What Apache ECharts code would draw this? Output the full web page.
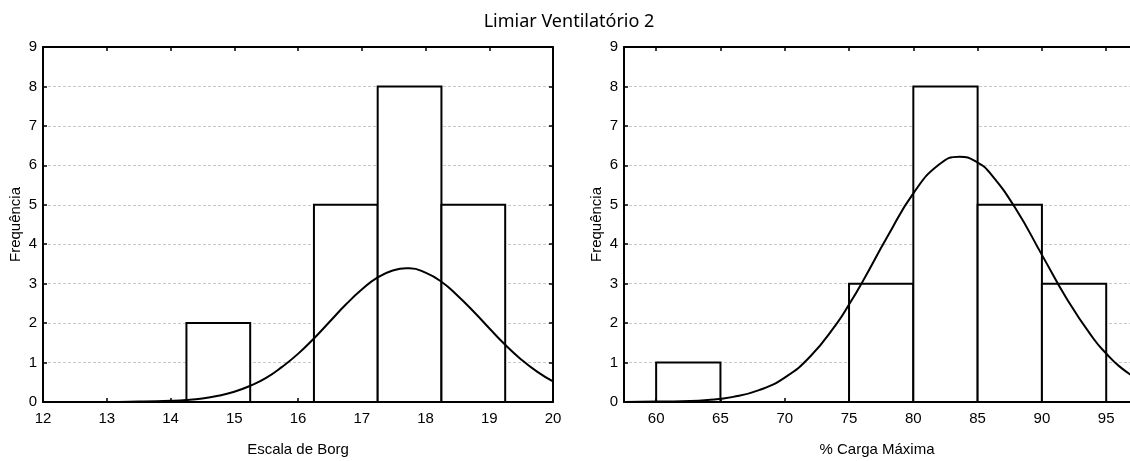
<!DOCTYPE html>
<html>
<head>
<meta charset="utf-8">
<script src="https://cdn.jsdelivr.net/npm/echarts@6/dist/echarts.min.js"></script>
<style>html,body{margin:0;padding:0;background:#fff}#c{width:1130px;height:461px}</style>
</head>
<body>
<div id="c"></div>
<script>
// ---- data ----
const chartTitle = 'Limiar Ventilatório 2';
const yTitle = 'Frequência';
const borgTitle = 'Escala de Borg';
const cargaTitle = '% Carga Máxima';

// left panel: histogram bins (edges) and counts
const borgBinStart = [14.25, 15.25, 16.25, 17.25, 18.25];
const borgBinEnd   = [15.25, 16.25, 17.25, 18.25, 19.25];
const borgCounts   = [2, 0, 5, 8, 5];
// expected normal curve
const borgCurveX = [12, 12.5, 13, 13.5, 14, 14.25, 14.5, 14.75, 15, 15.25, 15.5, 15.75, 16, 16.25, 16.5, 16.75, 17, 17.25, 17.5, 17.7, 17.75, 18, 18.25, 18.5, 18.75, 19, 19.25, 19.5, 19.75, 20];
const borgCurveY = [0, 0, 0, 0.01, 0.03, 0.05, 0.09, 0.16, 0.26, 0.41, 0.61, 0.89, 1.22, 1.61, 2.04, 2.47, 2.85, 3.16, 3.34, 3.39, 3.39, 3.28, 3.05, 2.70, 2.30, 1.87, 1.45, 1.08, 0.77, 0.52];

// right panel
const cargaBinStart = [60, 65, 70, 75, 80, 85, 90];
const cargaBinEnd   = [65, 70, 75, 80, 85, 90, 95];
const cargaCounts   = [1, 0, 0, 3, 8, 5, 3];
const cargaCurveX = [57.5, 60, 62, 64, 66, 68, 70, 72, 74, 75, 76, 78, 80, 82, 83.6, 85, 86, 88, 90, 92, 94, 95, 96, 97.5];
const cargaCurveY = [0, 0.01, 0.02, 0.05, 0.13, 0.30, 0.62, 1.16, 1.97, 2.47, 3.02, 4.20, 5.29, 6.02, 6.22, 6.07, 5.79, 4.88, 3.73, 2.58, 1.61, 1.23, 0.91, 0.56];
const cargaTicks = [60, 65, 70, 75, 80, 85, 90, 95];

// ---- chart ----
const FONT = 'Liberation Sans, Arial, sans-serif';
const chart = echarts.init(document.getElementById('c'), null, {renderer: 'canvas'});

function hist(starts, ends, counts) {
  return starts.map((s, i) => [s, ends[i], counts[i]]);
}
function pairs(xs, ys) { return xs.map((x, i) => [x, ys[i]]); }

function renderBar(params, api) {
  const c = api.value(2);
  if (!c) return null;
  const p1 = api.coord([api.value(0), c]);
  const p2 = api.coord([api.value(1), 0]);
  return {
    type: 'rect',
    shape: {x: p1[0], y: p1[1], width: p2[0] - p1[0], height: p2[1] - p1[1]},
    style: {fill: '#fff', stroke: '#000', lineWidth: 2}
  };
}

const axisLine = {show: true, onZero: false, lineStyle: {color: '#000', width: 2}};
const tick = {show: true, inside: true, length: 4, lineStyle: {color: '#000', width: 1.5}};
const lbl = {color: '#000', fontFamily: FONT, fontSize: 15};

function yAxes(gi, showRight) {
  return [
    {gridIndex: gi, type: 'value', min: 0, max: 9, interval: 1, position: 'left',
     name: yTitle, nameLocation: 'middle', nameGap: 20, nameRotate: 90,
     nameTextStyle: {color: '#000', fontFamily: FONT, fontSize: 15},
     axisLine: axisLine, axisTick: tick, axisLabel: Object.assign({margin: 6}, lbl),
     splitLine: {show: true, lineStyle: {color: '#c8c8c8', type: [3, 2], width: 1}}},
    {gridIndex: gi, type: 'value', min: 0, max: 9, interval: 1, position: 'right',
     axisLine: Object.assign({}, axisLine, {show: showRight}),
     axisTick: Object.assign({}, tick, {show: showRight}),
     axisLabel: {show: false}, splitLine: {show: false}}
  ];
}

const option = {
  backgroundColor: '#fff',
  animation: false,
  graphic: [{
    type: 'text', x: 569, y: 22,
    style: {text: chartTitle, fill: '#000', font: '18px "Noto Sans", sans-serif', textAlign: 'center', textVerticalAlign: 'middle'}
  }],
  grid: [
    {left: 43, top: 47, width: 510, height: 355, outerBoundsMode: 'none'},
    {left: 624, top: 47, width: 506, height: 355, outerBoundsMode: 'none'}
  ],
  xAxis: [
    {gridIndex: 0, type: 'value', min: 12, max: 20, interval: 1, position: 'bottom',
     name: borgTitle, nameLocation: 'middle', nameGap: 40,
     nameTextStyle: {color: '#000', fontFamily: FONT, fontSize: 15},
     axisLine: axisLine, axisTick: tick, axisLabel: Object.assign({margin: 9}, lbl), splitLine: {show: false}},
    {gridIndex: 0, type: 'value', min: 12, max: 20, interval: 1, position: 'top',
     axisLine: axisLine, axisTick: tick, axisLabel: {show: false}, splitLine: {show: false}},
    {gridIndex: 1, type: 'value', min: 57.5, max: 96.85, position: 'bottom',
     name: cargaTitle, nameLocation: 'middle', nameGap: 40,
     nameTextStyle: {color: '#000', fontFamily: FONT, fontSize: 15},
     axisLine: axisLine,
     axisTick: Object.assign({customValues: cargaTicks}, tick),
     axisLabel: Object.assign({margin: 9, customValues: cargaTicks}, lbl), splitLine: {show: false}},
    {gridIndex: 1, type: 'value', min: 57.5, max: 96.85, position: 'top',
     axisLine: axisLine,
     axisTick: Object.assign({customValues: cargaTicks}, tick),
     axisLabel: {show: false, customValues: cargaTicks}, splitLine: {show: false}}
  ],
  yAxis: yAxes(0, true).concat(yAxes(1, false)),
  series: [
    {type: 'custom', xAxisIndex: 0, yAxisIndex: 0, renderItem: renderBar,
     data: hist(borgBinStart, borgBinEnd, borgCounts), z: 2},
    {type: 'line', xAxisIndex: 0, yAxisIndex: 0, data: pairs(borgCurveX, borgCurveY),
     smooth: true, showSymbol: false, lineStyle: {color: '#000', width: 2}, z: 3},
    {type: 'custom', xAxisIndex: 2, yAxisIndex: 2, renderItem: renderBar,
     data: hist(cargaBinStart, cargaBinEnd, cargaCounts), z: 2},
    {type: 'line', xAxisIndex: 2, yAxisIndex: 2, data: pairs(cargaCurveX, cargaCurveY),
     smooth: true, showSymbol: false, lineStyle: {color: '#000', width: 2}, z: 3}
  ]
};
chart.setOption(option);
</script>
</body>
</html>
